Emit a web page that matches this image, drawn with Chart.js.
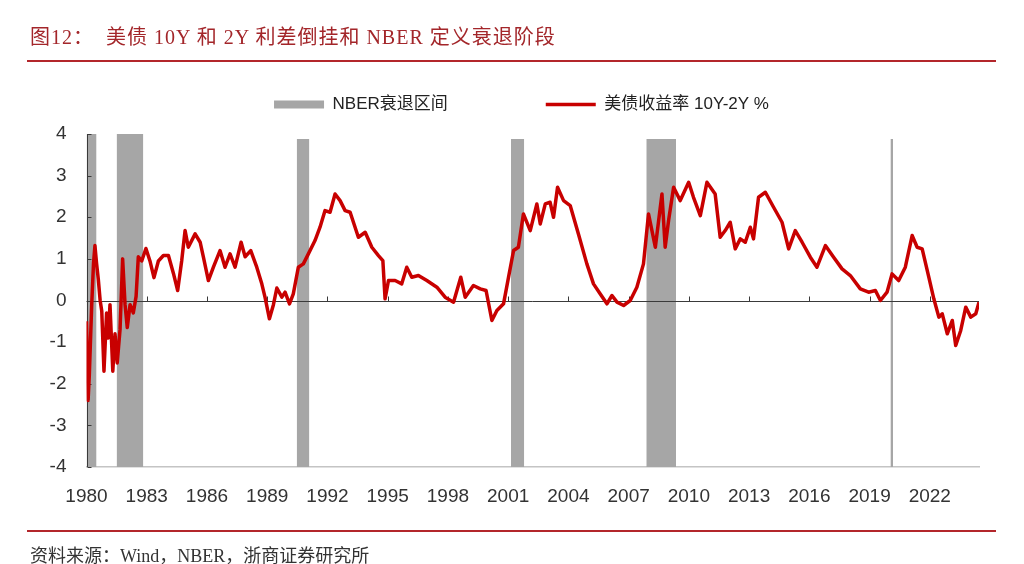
<!DOCTYPE html>
<html>
<head>
<meta charset="utf-8">
<script src="https://cdn.jsdelivr.net/npm/chart.js@4.4.1/dist/chart.umd.min.js"></script>
<style>
  html, body { margin: 0; padding: 0; background: #fff; }
  #page { position: relative; width: 1024px; height: 564px; overflow: hidden; }
  #chart { position: absolute; left: 0; top: 0; }
  .title {
    position: absolute; left: 30px; top: 21px;
    font: 20px "Liberation Serif", "Noto Sans CJK SC", serif;
    color: #a3262a; letter-spacing: 1px; white-space: pre;
  }
  .rule { position: absolute; left: 27px; width: 969px; height: 2px; background: #b3262b; }
  .source {
    position: absolute; left: 30px; top: 541px;
    font: 18px "Liberation Serif", "Noto Sans CJK SC", serif;
    color: #333; white-space: pre;
  }
</style>
</head>
<body>
<div id="page">
  <canvas id="chart" width="1024" height="564"></canvas>
  <div class="title">图12：  美债 10Y 和 2Y 利差倒挂和 NBER 定义衰退阶段</div>
  <div class="rule" style="top:60px"></div>
  <div class="rule" style="top:530px"></div>
  <div class="source">资料来源：Wind，NBER，浙商证券研究所</div>
</div>
<script>
// 10Y-2Y spread (decimal year, %)
const dates = [
  1980.00, 1980.04, 1980.08, 1980.14, 1980.26, 1980.35, 1980.42, 1980.50, 1980.59, 1980.68,
  1980.76, 1980.87, 1981.00, 1981.08, 1981.17, 1981.31, 1981.42, 1981.53, 1981.67, 1981.80,
  1981.92, 1982.03, 1982.17, 1982.33, 1982.47, 1982.58, 1982.75, 1982.96, 1983.16, 1983.36,
  1983.58, 1983.83, 1984.08, 1984.33, 1984.54, 1984.74, 1984.91, 1985.07, 1985.41, 1985.66,
  1985.82, 1986.07, 1986.32, 1986.65, 1986.90, 1987.15, 1987.40, 1987.70, 1987.90, 1988.18,
  1988.48, 1988.73, 1988.89, 1989.11, 1989.31, 1989.48, 1989.73, 1989.89, 1990.11, 1990.30,
  1990.55, 1990.80, 1991.05, 1991.38, 1991.63, 1991.88, 1992.13, 1992.38, 1992.63, 1992.88,
  1993.13, 1993.54, 1993.88, 1994.21, 1994.54, 1994.76, 1994.87, 1995.04, 1995.37, 1995.70,
  1995.95, 1996.20, 1996.53, 1996.95, 1997.45, 1997.86, 1998.28, 1998.64, 1998.86, 1999.27,
  1999.61, 1999.90, 2000.19, 2000.44, 2000.77, 2001.02, 2001.27, 2001.51, 2001.76, 2002.10,
  2002.43, 2002.60, 2002.85, 2003.09, 2003.26, 2003.46, 2003.76, 2004.09, 2004.50, 2004.92,
  2005.25, 2005.58, 2005.92, 2006.17, 2006.42, 2006.75, 2007.08, 2007.41, 2007.74, 2007.99,
  2008.33, 2008.66, 2008.82, 2008.99, 2009.24, 2009.57, 2009.99, 2010.23, 2010.57, 2010.90,
  2011.31, 2011.56, 2011.81, 2012.06, 2012.31, 2012.56, 2012.81, 2013.06, 2013.22, 2013.47,
  2013.81, 2014.22, 2014.64, 2014.97, 2015.30, 2015.64, 2016.05, 2016.38, 2016.80, 2017.21,
  2017.63, 2018.04, 2018.54, 2018.95, 2019.29, 2019.54, 2019.87, 2020.12, 2020.45, 2020.78,
  2021.12, 2021.37, 2021.62, 2021.95, 2022.20, 2022.45, 2022.62, 2022.87, 2023.12, 2023.29,
  2023.54, 2023.79, 2024.04, 2024.29, 2024.45
];
const spread = [
  -0.50, -1.40, -2.40, -1.80, -0.10, 0.90, 1.32, 0.90, 0.50, 0.00,
  -0.25, -1.70, -0.30, -0.90, -0.10, -1.70, -0.80, -1.50, -0.70, 1.00,
  -0.10, -0.65, -0.10, -0.30, 0.10, 1.05, 0.95, 1.25, 0.95, 0.55,
  0.95, 1.08, 1.08, 0.65, 0.24, 0.95, 1.68, 1.28, 1.60, 1.40,
  1.05, 0.48, 0.80, 1.20, 0.80, 1.12, 0.80, 1.40, 1.05, 1.20,
  0.80, 0.40, 0.08, -0.44, -0.10, 0.30, 0.08, 0.20, -0.08, 0.16,
  0.80, 0.88, 1.12, 1.44, 1.76, 2.16, 2.12, 2.56, 2.40, 2.16,
  2.12, 1.52, 1.64, 1.28, 1.08, 0.96, 0.04, 0.48, 0.48, 0.40,
  0.80, 0.56, 0.60, 0.48, 0.32, 0.08, -0.04, 0.56, 0.08, 0.36,
  0.28, 0.24, -0.48, -0.24, -0.08, 0.56, 1.20, 1.28, 2.08, 1.68,
  2.32, 1.84, 2.32, 2.36, 2.00, 2.72, 2.40, 2.28, 1.60, 0.88,
  0.40, 0.16, -0.08, 0.12, -0.04, -0.12, 0.00, 0.32, 0.88, 2.08,
  1.28, 2.56, 1.28, 1.92, 2.72, 2.40, 2.84, 2.48, 2.04, 2.84,
  2.56, 1.52, 1.68, 1.88, 1.24, 1.48, 1.40, 1.76, 1.48, 2.48,
  2.60, 2.24, 1.88, 1.24, 1.68, 1.40, 1.04, 0.80, 1.32, 1.04,
  0.76, 0.60, 0.28, 0.20, 0.24, 0.00, 0.20, 0.64, 0.48, 0.80,
  1.56, 1.28, 1.24, 0.56, 0.04, -0.40, -0.32, -0.80, -0.48, -1.08,
  -0.72, -0.16, -0.40, -0.32, -0.04
];

// NBER recession windows (decimal year) and bar heights as drawn
const recessionStart = [1980.00, 1981.50, 1990.47, 2001.14, 2007.88, 2020.04];
const recessionEnd   = [1980.50, 1982.83, 1991.10, 2001.80, 2009.36, 2020.17];
const recessionTop   = [4, 4, 3.88, 3.88, 3.88, 3.88];

const yearTicks = [1980, 1983, 1986, 1989, 1992, 1995, 1998, 2001, 2004, 2007, 2010, 2013, 2016, 2019, 2022];
const yMin = -4, yMax = 4;
const xMin = 1980, xMax = 2024.45;

const bandPoints = [];
recessionStart.forEach((s, i) => {
  bandPoints.push({x: s, y: recessionTop[i]});
  bandPoints.push({x: recessionEnd[i], y: recessionTop[i]});
  bandPoints.push({x: recessionEnd[i], y: null});
});
const spreadPoints = dates.map((d, i) => ({x: d, y: spread[i]}));

const tickFont = {family: '"Liberation Sans", Arial, "Noto Sans CJK SC", sans-serif', size: 19};

// zero line, left axis and the small inner tick marks, drawn over the bands
const axisMarks = {
  id: 'axisMarks',
  afterDatasetDraw(chart, args) {
    if (args.index !== 0) return;
    const {ctx, chartArea: a, scales: {x, y}} = chart;
    const y0 = Math.round(y.getPixelForValue(0)) + 0.5;
    const left = Math.round(a.left) + 0.5;
    ctx.save();
    ctx.strokeStyle = '#3a3a3a';
    ctx.lineWidth = 1;
    ctx.beginPath();
    ctx.moveTo(a.left, y0); ctx.lineTo(a.right, y0);
    ctx.moveTo(left, a.top); ctx.lineTo(left, a.bottom);
    y.ticks.forEach(t => {
      const py = Math.round(y.getPixelForValue(t.value)) + 0.5;
      ctx.moveTo(left, py); ctx.lineTo(left + 4, py);
    });
    x.ticks.forEach(t => {
      if (t.value === xMin) return;
      const px = Math.round(x.getPixelForValue(t.value)) + 0.5;
      ctx.moveTo(px, y0); ctx.lineTo(px, y0 - 5);
    });
    ctx.stroke();
    ctx.restore();
  }
};

// extra room under the legend row
const legendGap = {
  id: 'legendGap',
  beforeInit(chart) {
    const fit = chart.legend.fit;
    chart.legend.fit = function() {
      fit.call(this);
      this.height = 136;
    };
  }
};

new Chart(document.getElementById('chart'), {
  type: 'line',
  data: {
    datasets: [{
      label: 'NBER衰退区间',
      data: bandPoints,
      backgroundColor: '#a6a6a6',
      borderColor: 'rgba(0,0,0,0)',
      borderWidth: 0,
      pointRadius: 0,
      pointStyle: 'rect',
      spanGaps: false,
      fill: {value: yMin},
      order: 2
    }, {
      label: '美债收益率 10Y-2Y %',
      data: spreadPoints,
      borderColor: '#c80000',
      backgroundColor: '#c80000',
      borderWidth: 3.5,
      borderJoinStyle: 'round',
      pointRadius: 0,
      pointStyle: 'line',
      tension: 0,
      fill: false,
      order: 1
    }]
  },
  options: {
    responsive: false,
    animation: false,
    devicePixelRatio: 1,
    layout: {padding: {top: -2, left: 19, right: 0, bottom: 57}},
    plugins: {
      legend: {
        position: 'top',
        labels: {
          usePointStyle: true,
          pointStyleWidth: 50,
          boxHeight: 8,
          padding: 98,
          color: '#222',
          font: {family: '"Liberation Sans", Arial, "Noto Sans CJK SC", sans-serif', size: 17},
          sort: (a, b) => a.datasetIndex - b.datasetIndex
        }
      },
      tooltip: {enabled: false}
    },
    scales: {
      x: {
        type: 'linear',
        min: xMin,
        max: xMax,
        afterBuildTicks: s => { s.ticks = yearTicks.map(v => ({value: v})); },
        afterFit: s => { s.height = 40; },
        grid: {display: false},
        border: {display: true, color: '#c4c4c4', width: 1.5},
        ticks: {
          autoSkip: false,
          maxRotation: 0,
          padding: 10,
          color: '#333',
          font: tickFont,
          callback: v => String(v)
        }
      },
      y: {
        min: yMin,
        max: yMax,
        afterFit: s => { s.width = 67.5; },
        grid: {display: false, drawTicks: false},
        border: {display: false},
        ticks: {stepSize: 1, padding: 20, color: '#333', font: tickFont}
      },
      yRight: {
        position: 'right',
        display: true,
        afterFit: s => { s.width = 45; },
        grid: {display: false, drawTicks: false},
        border: {display: false},
        ticks: {display: false}
      }
    }
  },
  plugins: [axisMarks, legendGap]
});
</script>
</body>
</html>
